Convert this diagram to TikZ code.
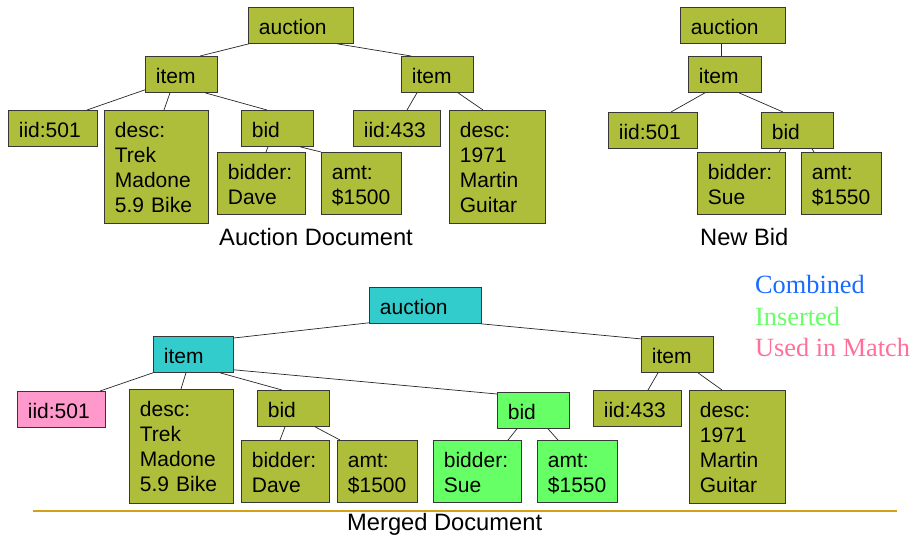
\documentclass[tikz,border=0pt]{standalone}
\usepackage{fontspec}
\setmainfont{Liberation Sans}
\newfontfamily\legendfont{Liberation Serif}
\definecolor{olivebox}{RGB}{175,190,58}
\definecolor{cyanbox}{RGB}{51,204,204}
\definecolor{greenbox}{RGB}{102,255,102}
\definecolor{pinkbox}{RGB}{255,153,204}
\definecolor{legblue}{RGB}{26,107,255}
\definecolor{leggreen}{RGB}{102,255,102}
\definecolor{legpink}{RGB}{255,111,153}
\definecolor{goldline}{RGB}{212,160,23}
\definecolor{boxedge}{RGB}{55,55,55}
\tikzset{
  bx/.style n args={3}{draw=boxedge, line width=0.8pt, fill=#1, anchor=north west,
    inner xsep=10.5pt, inner ysep=0pt, text height=27pt, text width=#2, text depth=#3,
    align=left, font=\fontsize{21}{25}\selectfont},
  conn/.style={draw=black!85, line width=0.7pt},
  caption/.style={anchor=base west, inner sep=0pt, font=\fontsize{23.7}{28}\selectfont},
  legend/.style={anchor=base west, inner sep=0pt, font=\legendfont\fontsize{26.3}{31}\selectfont}
}
\begin{document}
\begin{tikzpicture}[x=1pt,y=-1pt]
\useasboundingbox (0,0) rectangle (914,538);
% ---------- Auction Document ----------
\node[bx={olivebox}{84pt}{9pt}] (aauc) at (248,7) {auction};
\node[bx={olivebox}{51pt}{9pt}] (aitem1) at (145,56) {item};
\node[bx={olivebox}{68pt}{9pt}] (aiid) at (8,110) {iid:501};
\node[bx={olivebox}{83pt}{86pt}] (adesc) at (104,110) {desc:\\Trek\\Madone\\5.9 Bike};
\node[bx={olivebox}{51pt}{9pt}] (abid) at (241,110) {bid};
\node[bx={olivebox}{67pt}{35pt}] (abidder) at (217,152) {bidder:\\Dave};
\node[bx={olivebox}{59pt}{35pt}] (aamt) at (321,152) {amt:\\\$1500};
\node[bx={olivebox}{51pt}{9pt}] (aitem2) at (401,56) {item};
\node[bx={olivebox}{66pt}{9pt}] (aiid2) at (353,110) {iid:433};
\node[bx={olivebox}{75pt}{86pt}] (adesc2) at (449,110) {desc:\\1971\\Martin\\Guitar};
\node[caption] (acap) at (219,245) {Auction Document};
\draw[conn] ([xshift=1pt]aauc.south west) -- ([xshift=55pt]aitem1.north west);
\draw[conn] ([xshift=89pt]aauc.south west) -- ([xshift=10pt]aitem2.north west);
\draw[conn] ([yshift=3pt]aitem1.south west) -- ([xshift=79pt]aiid.north west);
\draw[conn] ([xshift=25pt]aitem1.south west) -- ([xshift=60pt]adesc.north west);
\draw[conn] ([xshift=60pt]aitem1.south west) -- ([xshift=26pt]abid.north west);
\draw[conn] ([xshift=27pt]abid.south west) -- ([xshift=49pt]abidder.north west);
\draw[conn] ([xshift=59pt]abid.south west) -- (aamt.north west);
\draw[conn] ([xshift=16pt]aitem2.south west) -- ([xshift=54pt]aiid2.north west);
\draw[conn] ([xshift=57pt]aitem2.south west) -- ([xshift=34pt]adesc2.north west);
% ---------- New Bid ----------
\node[bx={olivebox}{84pt}{9pt}] (bauc) at (680,7) {auction};
\node[bx={olivebox}{52pt}{9pt}] (bitem) at (688,56) {item};
\node[bx={olivebox}{68pt}{9pt}] (biid) at (608,112) {iid:501};
\node[bx={olivebox}{51pt}{9pt}] (bbid) at (761,112) {bid};
\node[bx={olivebox}{67pt}{35pt}] (bbidder) at (697,152) {bidder:\\Sue};
\node[bx={olivebox}{59pt}{35pt}] (bamt) at (801,152) {amt:\\\$1550};
\node[caption] (bcap) at (700,245) {New Bid};
\draw[conn] ([xshift=41pt]bauc.south west) -- ([xshift=33pt]bitem.north west);
\draw[conn] ([xshift=17pt]bitem.south west) -- ([xshift=63pt]biid.north west);
\draw[conn] ([xshift=51pt]bitem.south west) -- ([xshift=22pt]bbid.north west);
\draw[conn] ([xshift=20pt]bbid.south west) -- ([xshift=82pt]bbidder.north west);
\draw[conn] ([xshift=51pt]bbid.south west) -- ([xshift=13pt]bamt.north west);
% ---------- Merged Document ----------
\node[bx={cyanbox}{91pt}{9pt}] (cauc) at (369,287) {auction};
\node[bx={cyanbox}{59pt}{9pt}] (citem1) at (153,336) {item};
\node[bx={pinkbox}{67pt}{9pt}] (ciid) at (17,391) {iid:501};
\node[bx={olivebox}{83pt}{87pt}] (cdesc) at (129,389) {desc:\\Trek\\Madone\\5.9 Bike};
\node[bx={olivebox}{51pt}{9pt}] (cbid) at (257,390) {bid};
\node[bx={olivebox}{67pt}{35pt}] (cbidder) at (241,440) {bidder:\\Dave};
\node[bx={olivebox}{59pt}{35pt}] (camt) at (337,440) {amt:\\\$1500};
\node[bx={greenbox}{51pt}{9pt}] (cbidg) at (497,392) {bid};
\node[bx={greenbox}{67pt}{35pt}] (cbidderg) at (433,440) {bidder:\\Sue};
\node[bx={greenbox}{59pt}{35pt}] (camtg) at (537,440) {amt:\\\$1550};
\node[bx={olivebox}{51pt}{9pt}] (citem2) at (641,336) {item};
\node[bx={olivebox}{67pt}{9pt}] (ciid2) at (593,390) {iid:433};
\node[bx={olivebox}{75pt}{86pt}] (cdesc2) at (689,390) {desc:\\1971\\Martin\\Guitar};
\draw[conn] ([yshift=1pt]cauc.south west) -- ([yshift=-2pt]citem1.north east);
\draw[conn] ([xshift=-1pt]cauc.south east) -- ([xshift=1pt,yshift=-3pt]citem2.north west);
\draw[conn] (citem1.south west) -- ([xshift=83pt]ciid.north west);
\draw[conn] ([xshift=33pt]citem1.south west) -- ([xshift=52pt]cdesc.north west);
\draw[conn] ([xshift=67pt]citem1.south west) -- ([xshift=25pt]cbid.north west);
\draw[conn] ([yshift=3pt]citem1.south east) -- ([yshift=-2pt]cbidg.north west);
\draw[conn] ([xshift=28pt]cbid.south west) -- ([xshift=39pt]cbidder.north west);
\draw[conn] ([xshift=58pt]cbid.south west) -- ([xshift=3pt]camt.north west);
\draw[conn] ([xshift=20pt]cbidg.south west) -- ([xshift=75pt]cbidderg.north west);
\draw[conn] ([xshift=51pt]cbidg.south west) -- ([xshift=21pt]camtg.north west);
\draw[conn] ([xshift=17pt]citem2.south west) -- ([xshift=55pt]ciid2.north west);
\draw[conn] ([xshift=57pt]citem2.south west) -- ([xshift=33pt]cdesc2.north west);
% separator and caption
\coordinate (sepL) at (33,511);
\coordinate (sepR) at (897,511);
\draw[goldline, line width=2pt] (sepL) -- (sepR);
\node[caption] (ccap) at (347,530) {Merged Document};
% legend
\node[legend, text=legblue] (lcomb) at (755,293) {Combined};
\node[legend, text=leggreen] (lins) at (755,325) {Inserted};
\node[legend, text=legpink] (lused) at (755,356) {Used in Match};
\end{tikzpicture}
\end{document}
